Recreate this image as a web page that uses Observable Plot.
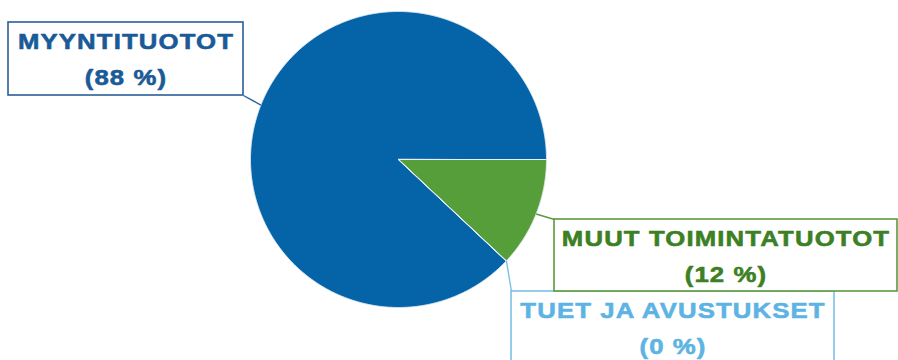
<!DOCTYPE html>
<html><head><meta charset="utf-8">
<script src="https://cdn.jsdelivr.net/npm/d3@7"></script>
<script src="https://cdn.jsdelivr.net/npm/@observablehq/plot@0.6"></script>
<style>
html,body{margin:0;padding:0;background:#fff;}
#chart text{letter-spacing:1px;}
</style></head><body><div id="chart"></div>
<script>
// ---- data ----
const categories = ["MYYNTITUOTOT", "MUUT TOIMINTATUOTOT", "TUET JA AVUSTUKSET"];
const shares = [88, 12, 0];
const percentLabels = ["(88 %)", "(12 %)", "(0 %)"];

// ---- styles ----
const sliceColors = ["#0563a8", "#559e39", "#6ab8e4"];
const textColors = ["#1a5a97", "#3d7f25", "#5db3e3"];
const borderColors = ["#2a6099", "#5a9a3c", "#7cc0e8"];

// ---- layout ----
const W = 898, H = 360;
const center = {x: 398, y: 159}, radius = 148;
const startDeg = 133.2;
const boxes = [
  {x1: 8,   y1: 22,  x2: 243, y2: 95,  cx: 243, cy: 95},
  {x1: 554, y1: 219, x2: 897, y2: 291, cx: 554, cy: 219},
  {x1: 511, y1: 291, x2: 834, y2: 375, cx: 511, cy: 291}
];
const line1Offset = 26.5, line2Offset = 62;
const textStretch = 1.12;

const a0 = startDeg * Math.PI / 180;
const arcs = d3.pie().sort(null).value(d => d).startAngle(a0).endAngle(a0 + 2 * Math.PI)(shares);
const pt = a => ({x: center.x + radius * Math.sin(a), y: center.y - radius * Math.cos(a)});

const slicePts = [];
arcs.forEach((arc, i) => {
  slicePts.push({k: categories[i], x: center.x, y: center.y});
  const steps = Math.max(1, Math.ceil((arc.endAngle - arc.startAngle) / 0.004));
  for (let s = 0; s <= steps; s++) {
    const a = arc.startAngle + (arc.endAngle - arc.startAngle) * s / steps;
    slicePts.push({k: categories[i], ...pt(a)});
  }
});

const leaders = arcs.map((arc, i) => {
  const p = pt((arc.startAngle + arc.endAngle) / 2);
  return {k: categories[i], x1: p.x, y1: p.y, x2: boxes[i].cx, y2: boxes[i].cy, i};
});

const font = {fontSize: 23, fontWeight: "bold", fontFamily: "Liberation Sans, Arial, sans-serif", lineAnchor: "bottom", textAnchor: "middle", strokeWidth: 0.6};
const drawOrder = [2, 1, 0];
const labelMarks = [];
drawOrder.forEach(i => {
  const b = boxes[i];
  labelMarks.push(Plot.rect([b], {x1: "x1", x2: "x2", y1: "y1", y2: "y2", fill: "white", stroke: borderColors[i], strokeWidth: 1.6}));
  const tx = (b.x1 + Math.min(b.x2, W)) / 2;
  labelMarks.push(Plot.text([categories[i]], {...font, x: () => tx, y: () => b.y1 + line1Offset, text: d => d, fill: textColors[i], stroke: textColors[i]}));
  labelMarks.push(Plot.text([percentLabels[i]], {...font, x: () => tx, y: () => b.y1 + line2Offset, text: d => d, fill: textColors[i], stroke: textColors[i]}));
});

const chart = Plot.plot({
  width: W, height: H, margin: 0,
  x: {domain: [0, W], range: [0, W], axis: null},
  y: {domain: [0, H], range: [0, H], axis: null},
  color: {domain: categories, range: sliceColors},
  style: {background: "white"},
  marks: [
    Plot.line(slicePts, {x: "x", y: "y", z: "k", fill: "k", stroke: "#e4eef6", strokeWidth: 1, curve: "linear-closed"}),
    ...leaders.map(l => Plot.link([l], {x1: "x1", y1: "y1", x2: "x2", y2: "y2", stroke: borderColors[l.i], strokeWidth: 1.4})),
    ...labelMarks
  ]
});
document.getElementById("chart").appendChild(chart);

// widen the label glyphs horizontally about their own centre
chart.querySelectorAll("text").forEach(t => {
  const bb = t.getBBox();
  const cx = bb.x + bb.width / 2;
  const prev = t.getAttribute("transform") || "";
  t.setAttribute("transform", `${prev} translate(${cx},0) scale(${textStretch},1) translate(${-cx},0)`);
});
</script></body></html>
